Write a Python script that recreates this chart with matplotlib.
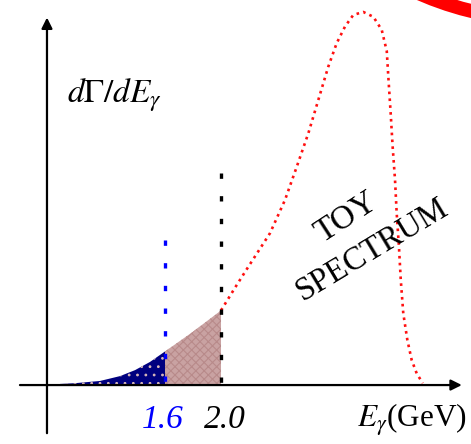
import numpy as np
import matplotlib
matplotlib.use('Agg')
import matplotlib.pyplot as plt
from matplotlib.patches import Circle

plt.rcParams['font.family'] = ['Liberation Serif', 'DejaVu Serif']
plt.rcParams['mathtext.fontset'] = 'stix'
plt.rcParams['hatch.linewidth'] = 0.8

# toy photon spectrum (E in GeV, rate normalised to peak)
energy = [0.85, 0.957, 1.136, 1.279, 1.386, 1.493, 1.6, 1.8, 2.0, 2.112,
          2.195, 2.35, 2.457, 2.541, 2.624, 2.695, 2.766, 2.826, 2.886,
          2.945, 3.016, 3.088, 3.148, 3.184, 3.197, 3.212, 3.226, 3.243,
          3.255, 3.271, 3.284, 3.302, 3.331, 3.362, 3.398, 3.441]
rate = [0.003, 0.005, 0.011, 0.024, 0.040, 0.062, 0.090, 0.143, 0.200,
        0.268, 0.317, 0.407, 0.496, 0.585, 0.675, 0.764, 0.853, 0.916,
        0.961, 0.992, 1.0, 0.987, 0.952, 0.895, 0.815, 0.728, 0.639,
        0.550, 0.460, 0.371, 0.282, 0.192, 0.121, 0.067, 0.031, 0.005]

cut_low = 1.6
cut_high = 2.0
cut_labels = ['1.6', '2.0']

energy = np.array(energy)
rate = np.array(rate)

fig = plt.figure(figsize=(4.71, 4.44), dpi=100)
ax = fig.add_axes([0, 0, 1, 1])
ax.set_xlim(0.4214, 3.7857)
ax.set_ylim(-0.158, 1.032)
ax.axis('off')

# axes with arrows
ax.annotate('', xy=(3.72, 0), xytext=(0.564, 0),
            arrowprops=dict(arrowstyle='-|>', lw=1.6, color='k',
                            mutation_scale=16, shrinkA=0, shrinkB=0))
ax.annotate('', xy=(0.757, 0.985), xytext=(0.757, -0.129),
            arrowprops=dict(arrowstyle='-|>', lw=1.6, color='k',
                            mutation_scale=16, shrinkA=0, shrinkB=0))

# shaded regions
lo = energy <= cut_low
mid = (energy >= cut_low) & (energy <= cut_high)
ax.fill_between(energy[lo], 0, rate[lo], facecolor='#00007f',
                edgecolor='#d9b8b8', hatch='..', lw=0, zorder=2)
ax.fill_between(energy[mid], 0, rate[mid], facecolor='#c9a2a2',
                edgecolor='#b88a8a', hatch='xxxx', lw=0, zorder=2)

# spectrum above the 2.0 cut
hi = energy >= cut_high
ax.plot(energy[hi], rate[hi], color='#ff1010', lw=1.9,
        linestyle=(0, (1.0, 1.6)), zorder=3)

# cut lines, drawn top-down so a dot sits at the top end
ax.plot([cut_low, cut_low], [0.389, -0.032], color='#0000ff', lw=2.4,
        linestyle=(0, (1.6, 5.2)), zorder=4)
ax.plot([cut_high, cut_high], [0.568, -0.035], color='k', lw=2.4,
        linestyle=(0, (1.6, 5.2)), zorder=4)

# labels
ax.text(0.9, 0.756, r'$d\Gamma/dE_\gamma$', fontsize=24, ha='left',
        va='baseline')
ax.text(1.586, -0.115, cut_labels[0], color='#0000ff', fontsize=24,
        style='italic', ha='center', va='baseline')
ax.text(2.029, -0.115, cut_labels[1], color='k', fontsize=24,
        style='italic', ha='center', va='baseline')
ax.text(3.76, -0.115, r'$E_\gamma$(GeV)', fontsize=22.5, ha='right',
        va='baseline')
ax.text(2.893, 0.448, 'TOY', fontsize=24, rotation=33,
        rotation_mode='anchor', ha='center', va='center')
ax.text(3.079, 0.362, 'SPECTRUM', fontsize=23.5, rotation=31,
        rotation_mode='anchor', ha='center', va='center')

# red ring cut off in the top-right corner
over = fig.add_axes([0, 0, 1, 1])
over.set_xlim(0, 471)
over.set_ylim(444, 0)
over.axis('off')
over.add_patch(Circle((546, -296), 316, fill=False, edgecolor='#ff0000',
                      lw=10))

fig.savefig('out.png', dpi=100)
